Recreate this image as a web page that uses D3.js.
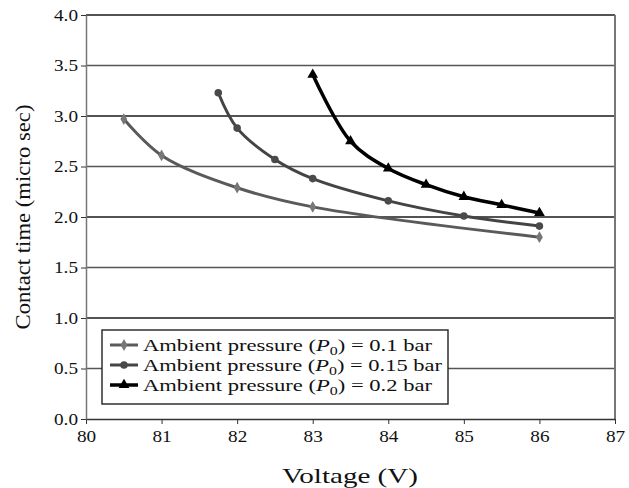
<!DOCTYPE html>
<html lang="en">
	<head>
		<meta charset="utf-8">
		<script src="https://d3js.org/d3.v7.min.js"></script>
		<style>
			body { margin: 0; background: #fff; }
			text { font-family: "Liberation Serif", serif; fill: #111; }
		</style>
	</head>
	<body>
		<script type="text/javascript">

			// data
			var xTicks = [80, 81, 82, 83, 84, 85, 86, 87];
			var yTicks = [0, 0.5, 1, 1.5, 2, 2.5, 3, 3.5, 4];

			var volt1 = [80.5, 81, 82, 83, 86];
			var time1 = [2.97, 2.61, 2.29, 2.10, 1.80];

			var volt2 = [81.75, 82, 82.5, 83, 84, 85, 86];
			var time2 = [3.23, 2.88, 2.57, 2.38, 2.16, 2.01, 1.91];

			var volt3 = [83, 83.5, 84, 84.5, 85, 85.5, 86];
			var time3 = [3.41, 2.75, 2.48, 2.32, 2.20, 2.12, 2.04];

			var labels = ["0.1 bar", "0.15 bar", "0.2 bar"];

			//Width and height
			var w = 629;
			var h = 488;
			var margin = {top: 15, right: 14, bottom: 69, left: 86};

			// the original's type is wide, stretch text to match
			function stretch(sel, k) {
				sel.each(function() {
					var len = this.getComputedTextLength();
					d3.select(this)
					  .attr("textLength", len * k)
					  .attr("lengthAdjust", "spacingAndGlyphs");
				});
			}

			var svg = d3.select("body")
						.append("svg")
						.attr("width", w)
						.attr("height", h);

			var x = d3.scaleLinear()
					  .domain([80, 87])
					  .range([margin.left, w - margin.right]);

			var y = d3.scaleLinear()
					  .domain([0, 4])
					  .range([h - margin.bottom, margin.top]);

			// horizontal grid lines
			svg.append("g")
			   .selectAll("line")
			   .data(yTicks.slice(1))
			   .enter()
			   .append("line")
			   .attr("x1", x(80))
			   .attr("x2", x(87))
			   .attr("y1", d => y(d))
			   .attr("y2", d => y(d))
			   .style("stroke", d => (d % 1 === 0) ? "#1a1a1a" : "#555")
			   .style("stroke-width", 1.4);

			// right border
			svg.append("line")
			   .attr("x1", x(87)).attr("x2", x(87))
			   .attr("y1", y(4)).attr("y2", y(0))
			   .style("stroke", "#777")
			   .style("stroke-width", 2);

			// axes
			var xAxis = d3.axisBottom(x)
						  .tickValues(xTicks)
						  .tickFormat(d3.format("d"))
						  .tickSizeInner(5)
						  .tickSizeOuter(0)
						  .tickPadding(7);

			var yAxis = d3.axisLeft(y)
						  .tickValues(yTicks)
						  .tickFormat(d3.format(".1f"))
						  .tickSizeInner(5)
						  .tickSizeOuter(0)
						  .tickPadding(3);

			var gx = svg.append("g")
			   .attr("transform", "translate(0," + y(0) + ")")
			   .call(xAxis);
			gx.select(".domain").style("stroke", "#333").style("stroke-width", 1.4);
			gx.selectAll(".tick line").style("stroke", "#333");
			gx.selectAll("text")
			  .style("font-family", "Liberation Serif")
			  .style("font-size", "16px")
			  .attr("fill", "#111")
			  .call(stretch, 1.2);

			var gy = svg.append("g")
			   .attr("transform", "translate(" + x(80) + ",0)")
			   .call(yAxis);
			gy.select(".domain").style("stroke", "#777").style("stroke-width", 1.5);
			gy.selectAll(".tick line").style("stroke", "#333");
			gy.selectAll("text")
			  .style("font-family", "Liberation Serif")
			  .style("font-size", "16px")
			  .attr("fill", "#111")
			  .call(stretch, 1.2);

			// axis titles
			svg.append("text")
			   .attr("x", 350)
			   .attr("y", 483)
			   .attr("text-anchor", "middle")
			   .style("font-size", "21px")
			   .attr("textLength", 136)
			   .attr("lengthAdjust", "spacingAndGlyphs")
			   .text("Voltage (V)");

			svg.append("text")
			   .attr("transform", "translate(30," + y(2) + ") rotate(-90)")
			   .attr("text-anchor", "middle")
			   .style("font-size", "21px")
			   .attr("textLength", 225)
			   .attr("lengthAdjust", "spacingAndGlyphs")
			   .text("Contact time (micro sec)");

			// series
			var series = [
				{v: volt1, t: time1, line: "#5a5a5a", mark: "#777", sym: d3.symbolDiamond, size: 40, lw: 3},
				{v: volt2, t: time2, line: "#444", mark: "#4a4a4a", sym: d3.symbolCircle, size: 45, lw: 3},
				{v: volt3, t: time3, line: "#000", mark: "#000", sym: d3.symbolTriangle, size: 50, lw: 3.5}
			];

			var line = d3.line()
						 .x(d => x(d[0]))
						 .y(d => y(d[1]))
						 .curve(d3.curveCatmullRom.alpha(0.5));

			series.forEach(function(s) {
				var pts = s.v.map((v, i) => [v, s.t[i]]);
				svg.append("path")
				   .datum(pts)
				   .attr("d", line)
				   .style("fill", "none")
				   .style("stroke", s.line)
				   .style("stroke-width", s.lw);

				svg.append("g")
				   .selectAll("path")
				   .data(pts)
				   .enter()
				   .append("path")
				   .attr("d", d3.symbol().type(s.sym).size(s.size))
				   .attr("transform", d => "translate(" + x(d[0]) + "," + y(d[1]) + ")")
				   .style("fill", s.mark);
			});

			// legend
			var rowWidth = [289, 299, 289];
			var lg = svg.append("g");
			lg.append("rect")
			  .attr("x", 102)
			  .attr("y", 330)
			  .attr("width", 346)
			  .attr("height", 74)
			  .style("fill", "#fff")
			  .style("stroke", "#222")
			  .style("stroke-width", 1.4);

			series.forEach(function(s, i) {
				var cy = 345 + i * 20;
				lg.append("line")
				  .attr("x1", 110).attr("x2", 138)
				  .attr("y1", cy).attr("y2", cy)
				  .style("stroke", s.line)
				  .style("stroke-width", s.lw);
				lg.append("path")
				  .attr("d", d3.symbol().type(s.sym).size(s.size))
				  .attr("transform", "translate(124," + cy + ")")
				  .style("fill", s.mark);

				var t = lg.append("text")
				  .attr("x", 143)
				  .attr("y", cy + 5.5)
				  .style("font-size", "17px")
				  .attr("textLength", rowWidth[i])
				  .attr("lengthAdjust", "spacingAndGlyphs");
				t.append("tspan").text("Ambient pressure (");
				t.append("tspan").style("font-style", "italic").text("P");
				t.append("tspan").attr("dy", 4).style("font-size", "12px").text("0");
				t.append("tspan").attr("dy", -4).text(") = " + labels[i]);
			});

		</script>
	</body>
</html>
